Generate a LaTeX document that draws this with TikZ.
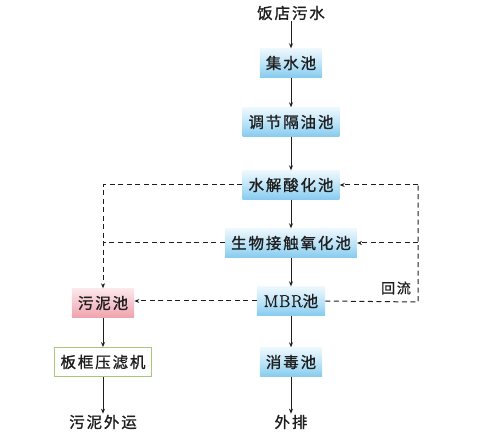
\documentclass[tikz,border=0pt]{standalone}
\usepackage{fontspec}
\newfontfamily\cjk[LetterSpace=12,FakeBold=1.2]{Noto Sans CJK SC}
\newfontfamily\latn[LetterSpace=5,FakeBold=1.5]{Latin Modern Roman}
\usetikzlibrary{arrows.meta}
\definecolor{txt}{HTML}{1E1E1E}
\definecolor{btop}{HTML}{EEF8FD}
\definecolor{bmid}{HTML}{BFE5F8}
\definecolor{bbot}{HTML}{86CBEF}
\definecolor{ptop}{HTML}{FCE8EB}
\definecolor{pbot}{HTML}{EFA3AE}
\definecolor{gbrd}{HTML}{A9C77C}
\tikzset{
  base/.style={font=\cjk\fontsize{15.5}{17}\selectfont, text=txt, inner xsep=6pt, inner ysep=0pt, minimum height=29pt},
  bluebox/.style={base, top color=btop, bottom color=bbot, middle color=bmid},
  pinkbox/.style={base, top color=ptop, bottom color=pbot},
  greenbox/.style={base, draw=gbrd, line width=0.8pt, fill=white},
  plain/.style={font=\cjk\fontsize{15.5}{17}\selectfont, text=txt, inner sep=1pt},
  flow/.style={-{Stealth[length=5pt,width=4pt]}, line width=0.9pt, draw=txt},
  ret/.style={dash pattern=on 5pt off 3.5pt, line width=1pt, draw=txt},
  reta/.style={ret, -{Stealth[length=5pt,width=4pt]}}
}
\begin{document}
\begin{tikzpicture}[x=1pt,y=-1pt]
\useasboundingbox (0,0) rectangle (499,433);
\node[plain] (src) at (291,13) {饭店污水};
\node[bluebox] (a) at (291,63) {集水池};
\node[bluebox] (b) at (291,122) {调节隔油池};
\node[bluebox] (c) at (291,185) {水解酸化池};
\node[bluebox] (d) at (291,243) {生物接触氧化池};
\node[bluebox, inner xsep=7pt] (e) at (291,301) {{\latn\fontsize{17}{17}\selectfont MBR}池};
\node[bluebox] (f) at (291,362) {消毒池};
\node[plain] (out) at (291,422) {外排};
\node[pinkbox] (g) at (103,303) {污泥池};
\node[greenbox] (h) at (103,362) {板框压滤机};
\node[plain] (sout) at (103,422) {污泥外运};
\node[plain, font=\cjk\fontsize{14}{15}\selectfont] (hl) at (396,288) {回流};
\coordinate (lt) at (103,185);
\coordinate (lm) at (103,243);
\coordinate (rt) at (418,185);
\coordinate (rm) at (418,243);
\coordinate (rb) at (418,302);
\draw[flow] (src) -- (a);
\draw[flow] (a) -- (b);
\draw[flow] (b) -- (c);
\draw[flow] (c) -- (d);
\draw[flow] (d) -- (e);
\draw[flow] (e) -- (f);
\draw[flow] (f) -- (out);
\draw[flow] (g) -- (h);
\draw[flow] (h) -- (sout);
\draw[reta] (c.west) -- (lt) -- (g.north);
\draw[ret] (d.west) -- (lm);
\draw[reta] (e.west) -- (e.west -| g.east);
\draw[ret] (e.east) -- (rb) -- (rt);
\draw[reta] (rt) -- (c.east);
\draw[reta] (rm) -- (d.east);
\end{tikzpicture}
\end{document}
